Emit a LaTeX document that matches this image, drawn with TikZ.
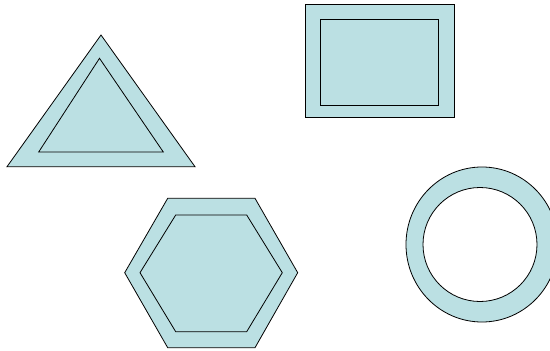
\documentclass[tikz,border=0pt]{standalone}
\definecolor{shapefill}{HTML}{BBE0E3}
\begin{document}
\begin{tikzpicture}[x=1pt,y=-1pt,
  shapeline/.style={draw=black,line width=0.8pt,line join=miter},
  outer/.style={shapeline,fill=shapefill},
  inner/.style={shapeline}]
\useasboundingbox (0,0) rectangle (550,351);
\clip (0,0) rectangle (550,351);
% triangle
\draw[outer] (101,35) -- (195,166.7) -- (7,166.7) -- cycle;
\draw[inner] (99.5,58.3) -- (163.3,152) -- (38.7,152) -- cycle;
% rectangle
\draw[outer] (305,4) rectangle (454.3,117.7);
\draw[inner] (320.7,19.3) rectangle (438.3,105.3);
% hexagon
\draw[outer] (167.7,198.3) -- (255,198.3) -- (297.7,272.7) -- (255,347.7) -- (167.7,347.7) -- (124.7,272.7) -- cycle;
\draw[inner] (175.7,215) -- (246.7,215) -- (282.3,272.7) -- (246.7,331.7) -- (175.7,331.7) -- (140,272.7) -- cycle;
% ring
\fill[shapefill,even odd rule] (482,244.5) ellipse [x radius=76, y radius=77.5] (480,244.5) circle [radius=57];
\draw[shapeline] (482,244.5) ellipse [x radius=76, y radius=77.5];
\draw[shapeline] (480,244.5) circle [radius=57];
\end{tikzpicture}
\end{document}
